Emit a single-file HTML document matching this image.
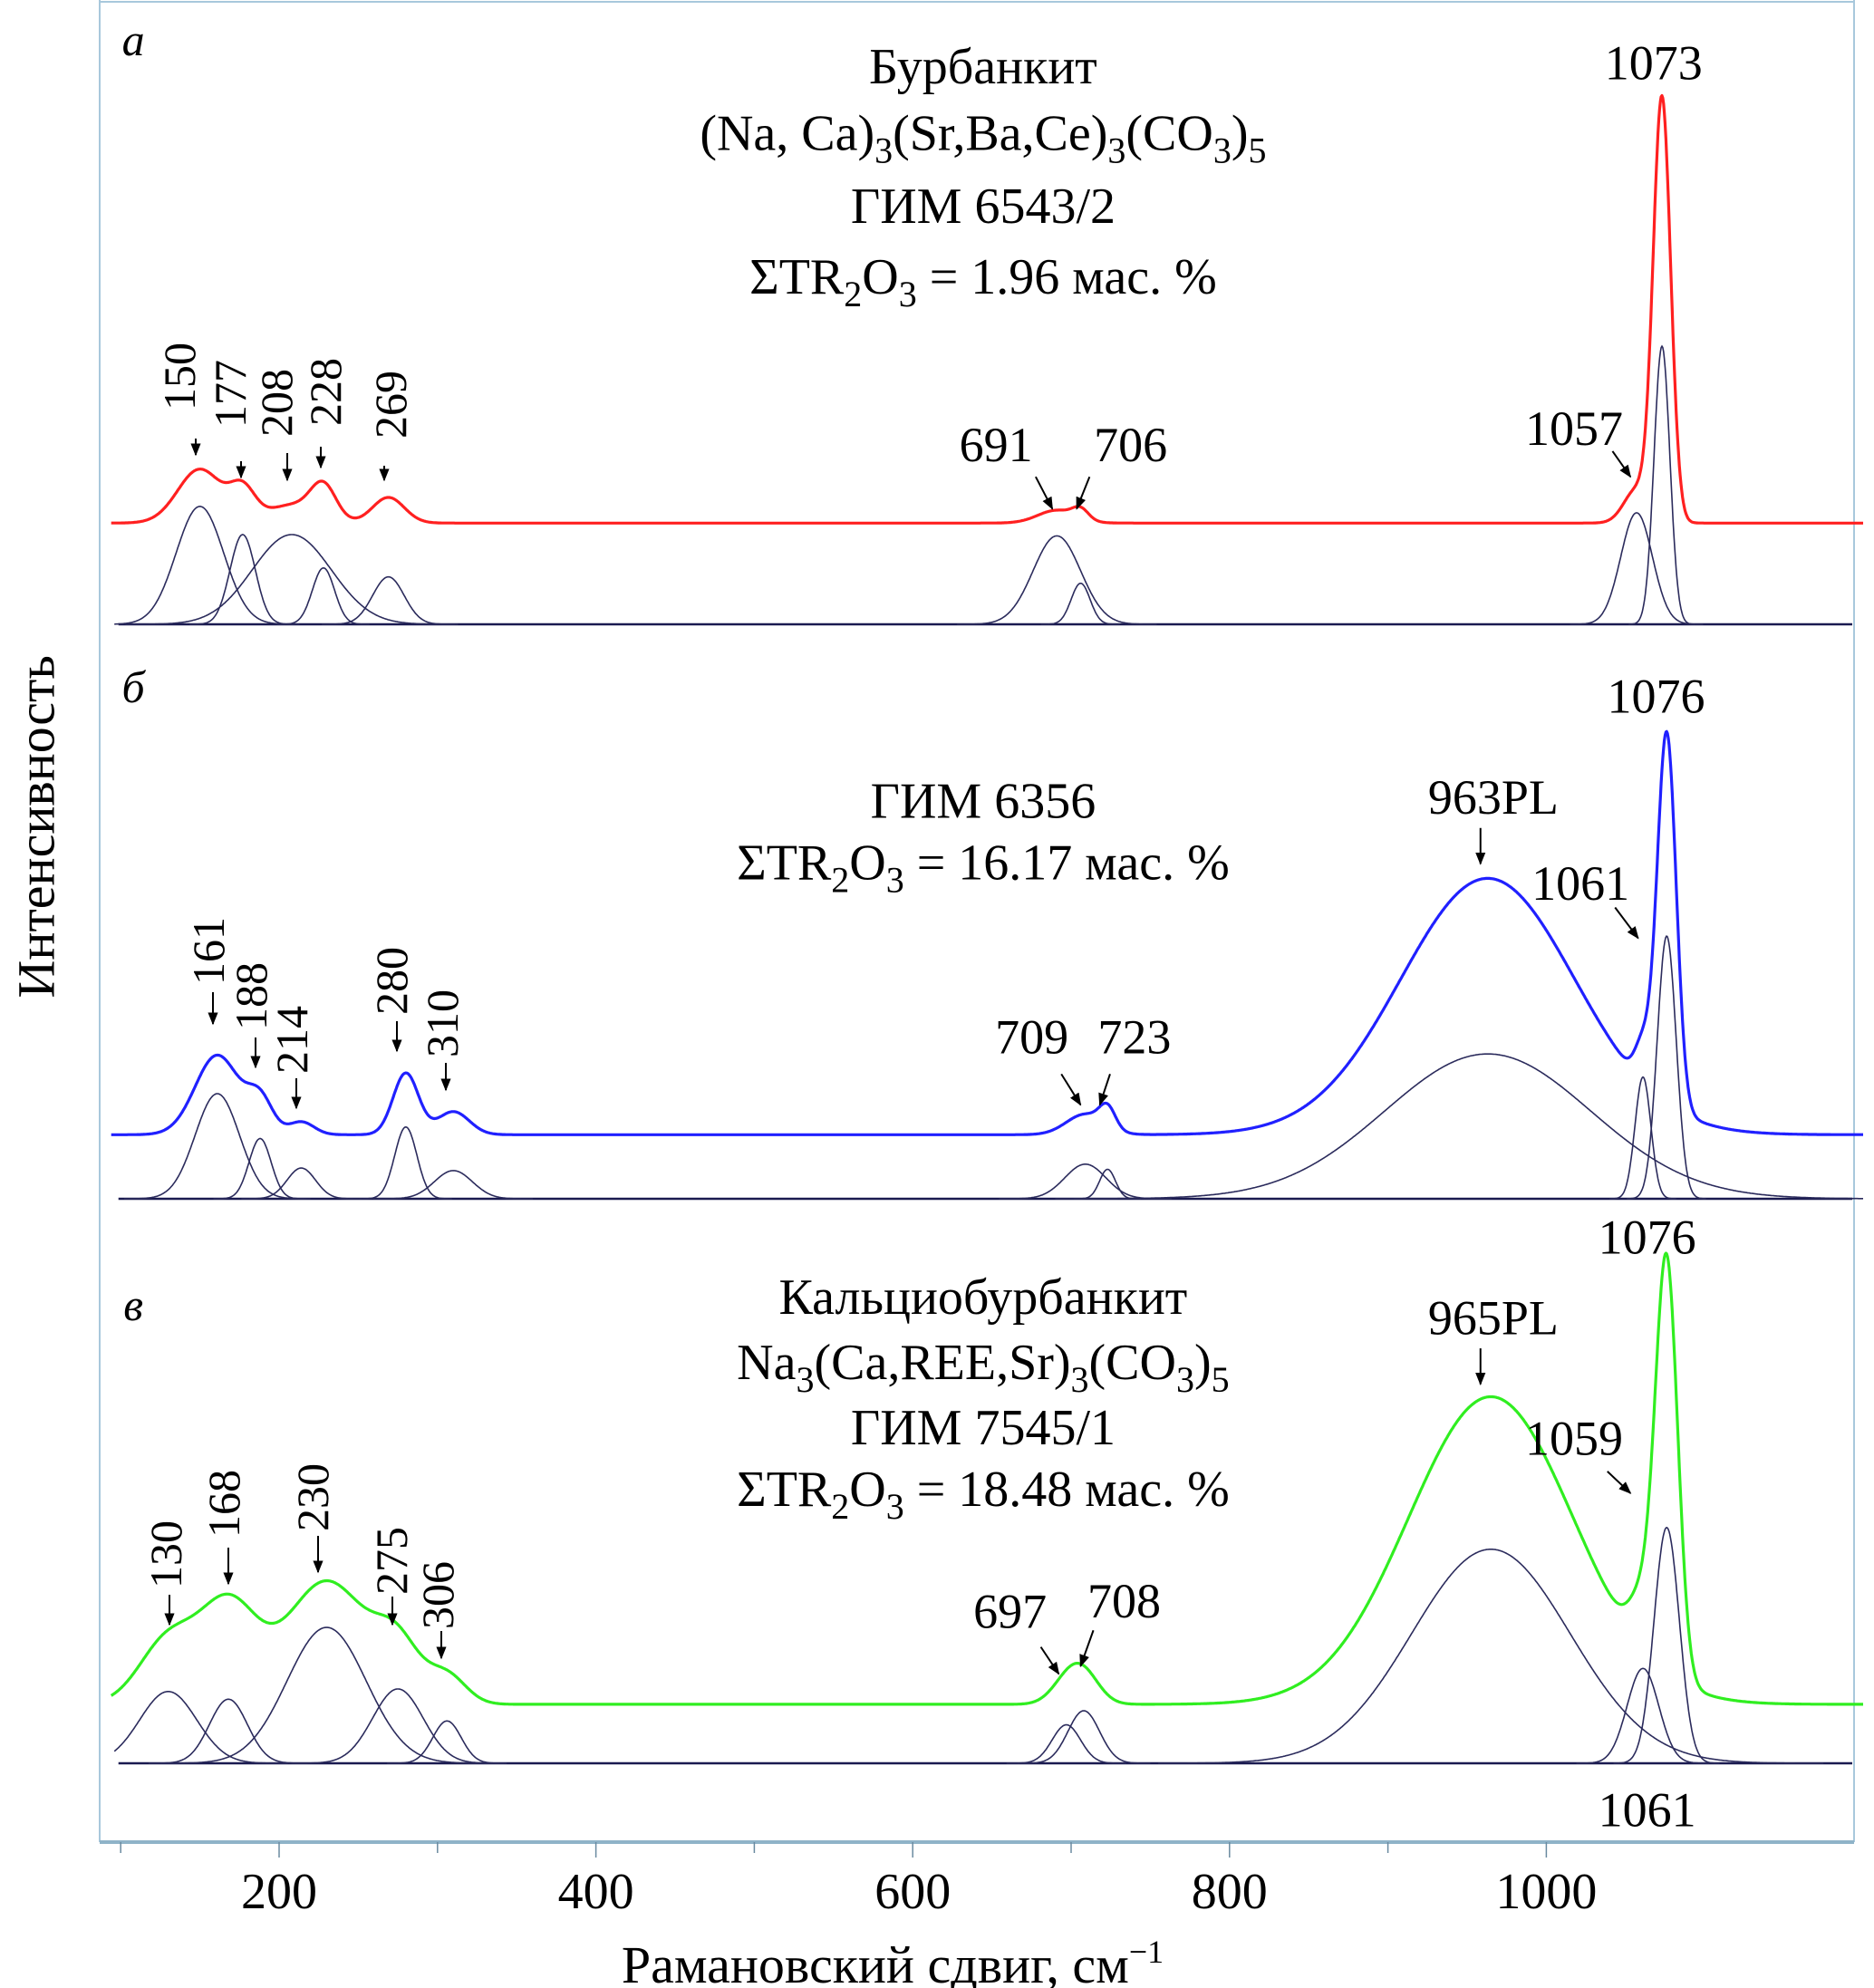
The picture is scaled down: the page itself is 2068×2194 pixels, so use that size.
<!DOCTYPE html>
<html><head><meta charset="utf-8">
<style>
html,body{margin:0;padding:0;background:#fff;}
svg{display:block;font-family:"Liberation Serif",serif;}
</style></head>
<body>
<svg id="chart" width="2068" height="2194" viewBox="0 0 2068 2194" xmlns="http://www.w3.org/2000/svg">
<defs>
<marker id="ah" viewBox="0 0 10 10" refX="9" refY="5" markerWidth="7" markerHeight="7" orient="auto"><path d="M0,1 L10,5 L0,9 z" fill="#000"/></marker>
</defs>
<g id="frame">
<line x1="110" y1="2" x2="2046" y2="2" stroke="#a8c8dc" stroke-width="2"/>
<line x1="110" y1="0" x2="110" y2="2033" stroke="#a8c8dc" stroke-width="2"/>
<line x1="2046" y1="0" x2="2046" y2="2033" stroke="#a8c8dc" stroke-width="2"/>
<line x1="110" y1="2033" x2="2046" y2="2033" stroke="#8fb3c8" stroke-width="4"/>
</g>
<g id="layer"></g>
</svg>
<script>
// ---- data ----
const xTicks = [100, 200, 300, 400, 500, 600, 700, 800, 900, 1000];
const xTickLabels = ["200", "400", "600", "800", "1000"];
const xTickLabelValues = [200, 400, 600, 800, 1000];

// panel a (Бурбанкит)
const aCenters = [150, 177, 208, 228, 269, 691, 706, 1057, 1073];
const aCompHeights = [92, 70, 70, 44, 37, 69, 32, 87, 217];
const aCompWidths = [15, 8, 25, 7, 10, 15, 6, 10, 5];
const aSpecHeights = [42, 24, 14, 26, 20, 10, 8, 26, 330];
const aSpecWidths = [14, 8, 16, 8, 10, 12, 5, 8, 5.5];
const aOffset = 79;

// panel b (ГИМ 6356)
const bCenters = [161, 188, 214, 280, 310, 709, 723, 963, 1061, 1076];
const bCompHeights = [82, 47, 24, 56, 22, 27, 23, 113, 95, 205];
const bCompWidths = [14, 7, 9, 7, 12, 13, 5, 65, 5, 6];
const bSpecHeights = [62, 26, 10, 48, 18, 16, 16, 200, 30, 290];
const bSpecWidths = [14, 8, 8, 8, 10, 12, 5, 55, 5, 6];
const bOffset = 50;

// panel c (Кальциобурбанкит)
const cCenters = [130, 168, 230, 275, 306, 697, 708, 965, 1061, 1076];
const cCompHeights = [56, 50, 106, 58, 33, 30, 41, 167, 74, 184];
const cCompWidths = [18, 12, 25, 16, 9, 9, 10, 50, 10, 8];
const cSpecHeights = [50, 75, 96, 40, 22, 15, 22, 240, 40, 320];
const cSpecWidths = [18, 18, 26, 14, 12, 10, 10, 52, 8, 7];
const cOffset = 46;

// ---- geometry ----
const S = 1.4145;
function xs(v){ return 308 + (v - 200) * 1.748; }
const panels = [
 {key:'a', base:689, color:'#ff2020', centers:aCenters, ch:aCompHeights, cw:aCompWidths, sh:aSpecHeights, sw:aSpecWidths, off:aOffset},
 {key:'b', base:1323, color:'#2020ff', centers:bCenters, ch:bCompHeights, cw:bCompWidths, sh:bSpecHeights, sw:bSpecWidths, off:bOffset},
 {key:'c', base:1946, color:'#30ee20', centers:cCenters, ch:cCompHeights, cw:cCompWidths, sh:cSpecHeights, sw:cSpecWidths, off:cOffset}
];
const NS = 'http://www.w3.org/2000/svg';
const layer = document.getElementById('layer');
function mk(tag, attrs, parent){
  const e = document.createElementNS(NS, tag);
  for (const k in attrs) e.setAttribute(k, attrs[k]);
  (parent || layer).appendChild(e);
  return e;
}
const X0 = 94, X1 = 1200;
function g(v, c, w){ return Math.exp(-((v - c) * (v - c)) / (2 * w * w)); }

panels.forEach(p => {
  const grp = mk('g', {});
  
  
  const ys = val => p.base - val * S;
  const bl = mk('line', {x1: xs(X0) + 8, y1: p.base, x2: 2044, y2: p.base, stroke: '#1a1a50', 'stroke-width': 2.5}, grp);
  
  
  p.centers.forEach((c, i) => {
    let d = '';
    const lo = Math.max(X0 + 2, c - 4.2 * p.cw[i]), hi = Math.min(X1, c + 4.2 * p.cw[i]);
    for (let v = lo; v <= hi; v += 0.5) {
      d += (d ? 'L' : 'M') + xs(v).toFixed(1) + ',' + ys(p.ch[i] * g(v, c, p.cw[i])).toFixed(1);
    }
    const path = mk('path', {d: d, fill: 'none', stroke: '#2b2b5c', 'stroke-width': 1.6}, grp);
    
    
  });
  let d = '';
  for (let v = X0; v <= X1; v += 0.5) {
    let s = p.off;
    p.centers.forEach((c, i) => { s += p.sh[i] * g(v, c, p.sw[i]); });
    d += (d ? 'L' : 'M') + xs(v).toFixed(1) + ',' + ys(s).toFixed(1);
  }
  const sp = mk('path', {d: d, fill: 'none', stroke: p.color, 'stroke-width': 3.2, 'stroke-linejoin': 'round'}, grp);
  
  
});

xTicks.forEach(t => {
  const l = mk('line', {x1: xs(t), y1: 2033, x2: xs(t), y2: (t % 200 === 0) ? 2050 : 2045, stroke: '#6a8aa0', 'stroke-width': 1.5});
  
  
});
xTickLabels.forEach((lab, i) => {
  const t = mk('text', {x: xs(xTickLabelValues[i]), y: 2106, 'font-size': 56, 'text-anchor': 'middle'});
  t.textContent = lab;
  
  
});

function txt(s, vx, vy, opts){
  opts = opts || {};
  const t = mk('text', {x: vx * S, y: vy * S, 'font-size': opts.size || 50, 'text-anchor': opts.anchor || 'middle'});
  if (opts.italic) t.setAttribute('font-style', 'italic');
  if (opts.rot) t.setAttribute('transform', 'rotate(-90 ' + (vx * S) + ' ' + (vy * S) + ')');
  t.innerHTML = s;
  return t;
}
function arrowF(x1, y1, x2, y2){
  const a = mk('line', {x1: x1, y1: y1, x2: x2, y2: y2, stroke: '#000', 'stroke-width': 2, 'marker-end': 'url(#ah)'});
  
  
}
function arrow(x1, y1, x2, y2){ arrowF(x1 * S, y1 * S, x2 * S, y2 * S); }
// rotated label: [text, columnCenterX, bottomY, arrowX, arrowY1, arrowY2] in full px
function rotLabel(r){
  const bx = r[1] + 17;
  const t = mk('text', {x: bx, y: r[2], 'font-size': 50, 'text-anchor': 'start', transform: 'rotate(-90 ' + bx + ' ' + r[2] + ')'});
  t.textContent = r[0];
  
  
  arrowF(r[3], r[4], r[3], r[5]);
}
const sub = n => '<tspan baseline-shift="-14" font-size="40">' + n + '</tspan>';
let e;
e = txt('Интенсивность', 42, 645, {rot: true, size: 58});
 
e = mk('text', {x: 985, y: 2188, 'font-size': 58, 'text-anchor': 'middle'});
e.innerHTML = 'Рамановский сдвиг, см<tspan baseline-shift="22" font-size="36">−1</tspan>';
 

const T = 56;
// panel a
e = txt('a', 104, 43, {italic: true});  
e = txt('Бурбанкит', 767, 65, {size: T});  
e = txt('(Na, Ca)' + sub(3) + '(Sr,Ba,Ce)' + sub(3) + '(CO' + sub(3) + ')' + sub(5), 767, 117, {size: T});  
e = txt('ГИМ 6543/2', 767, 174, {size: T});  
e = txt('ΣTR' + sub(2) + 'O' + sub(3) + ' = 1.96 мас. %', 767, 229, {size: T});  
e = txt('1073', 1290, 62, {size: 54});  
[['150',198,453,216,484,502],['177',254,472,266,509,527],['208',305,482,317,500,530],['228',359,470,354,493,516],['269',431,484,424,514,530]].forEach(rotLabel);
e = txt('691', 777, 360, {size: 54});  
e = txt('706', 882, 360, {size: 54});  
arrow(808,372,821,397); arrow(850,372,840,397);
e = txt('1057', 1228, 347, {size: 54});  
arrow(1258,352,1272,372);

// panel b
e = txt('б', 104, 548, {italic: true});  
e = txt('ГИМ 6356', 767, 638, {size: T});  
e = txt('ΣTR' + sub(2) + 'O' + sub(3) + ' = 16.17 мас. %', 767, 686, {size: T});  
e = txt('1076', 1292, 556, {size: 54});  
e = txt('963PL', 1165, 635, {size: 54});  
arrow(1155,646,1155,674);
e = txt('1061', 1233, 702, {size: 54});  
arrow(1260,708,1278,732);
[['161',230,1087,235,1095,1130],['188',277,1137,282,1145,1178],['214',322,1185,327,1190,1223],['280',432,1120,438,1127,1160],['310',488,1167,492,1173,1203]].forEach(rotLabel);
e = txt('709', 805, 822, {size: 54});  
e = txt('723', 885, 822, {size: 54});  
arrow(828,838,843,862); arrow(866,838,858,862);

// panel c
e = txt('в', 104, 1030, {italic: true});  
e = txt('Кальциобурбанкит', 767, 1025, {size: T});  
e = txt('Na' + sub(3) + '(Ca,REE,Sr)' + sub(3) + '(CO' + sub(3) + ')' + sub(5), 767, 1076, {size: T});  
e = txt('ГИМ 7545/1', 767, 1127, {size: T});  
e = txt('ΣTR' + sub(2) + 'O' + sub(3) + ' = 18.48 мас. %', 767, 1175, {size: T});  
e = txt('1076', 1285, 978, {size: 54});  
e = txt('965PL', 1165, 1041, {size: 54});  
arrow(1155,1052,1155,1080);
e = txt('1059', 1228, 1135, {size: 54});  
arrow(1254,1148,1272,1165);
[['130',183,1753,187,1760,1793],['168',247,1697,252,1708,1748],['230',345,1690,351,1695,1735],['275',432,1760,433,1762,1793],['306',483,1798,487,1800,1830]].forEach(rotLabel);
e = txt('697', 788, 1270, {size: 54});  
e = txt('708', 877, 1262, {size: 54});  
arrow(812,1285,826,1306); arrow(853,1272,843,1300);
e = txt('1061', 1285, 1425, {size: 54});  
</script>
</body></html>
